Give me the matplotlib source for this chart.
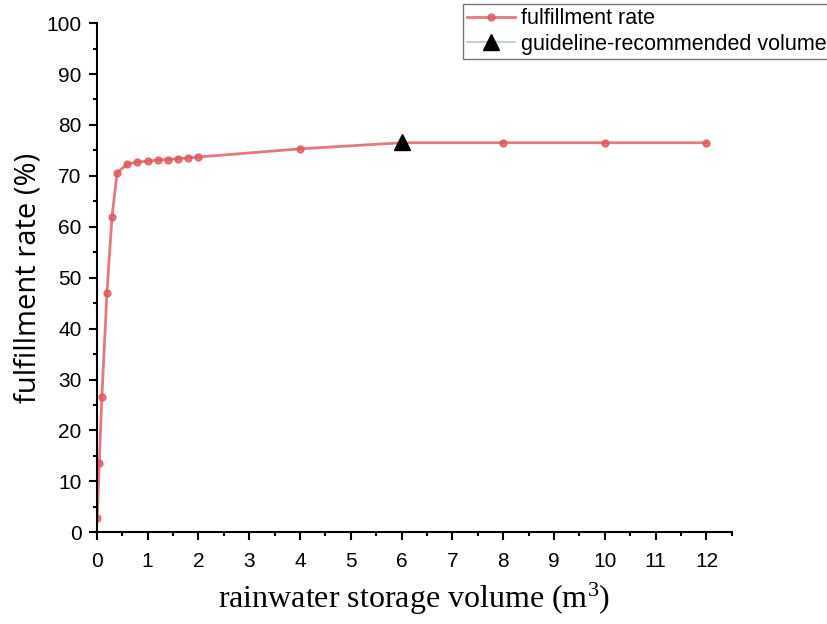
import matplotlib.pyplot as plt
from matplotlib.ticker import MultipleLocator

volume = [0.01, 0.05, 0.1, 0.2, 0.3, 0.4, 0.6, 0.8, 1.0, 1.2, 1.4, 1.6, 1.8, 2.0, 4, 6, 8, 10, 12]
rate = [2.8, 13.7, 26.5, 46.9, 62.0, 70.6, 72.3, 72.7, 72.9, 73.1, 73.2, 73.4, 73.5, 73.7, 75.3, 76.5, 76.5, 76.5, 76.5]
guide_x = [6]
guide_y = [76.6]

plt.rcParams['font.family'] = ['Liberation Sans', 'DejaVu Sans']
plt.rcParams['mathtext.fontset'] = 'custom'
plt.rcParams['mathtext.rm'] = 'Liberation Serif'
plt.rcParams['mathtext.it'] = 'Liberation Serif:italic'

fig = plt.figure(figsize=(8.27, 6.24), dpi=100)
ax = fig.add_axes([0.117, 0.147, 0.768, 0.816])

ax.plot(volume, rate, '-o', color='#e0575c', alpha=0.8, lw=2, ms=5, label='fulfillment rate')
ax.plot(guide_x, guide_y, '^', color='black', ms=12, ls='-', lw=1.2,
        label='guideline-recommended volume')
# legend line for the triangle entry is a pale line
h, l = ax.get_legend_handles_labels()
h[1].set_color('#b8c8d0')
h[1].set_markerfacecolor('black')
h[1].set_markeredgecolor('black')

ax.set_xlim(0, 12.5)
ax.set_ylim(0, 100)
ax.xaxis.set_major_locator(MultipleLocator(1))
ax.xaxis.set_minor_locator(MultipleLocator(0.5))
ax.yaxis.set_major_locator(MultipleLocator(10))
ax.yaxis.set_minor_locator(MultipleLocator(5))
ax.tick_params(which='major', length=6, width=1.5, labelsize=15)
ax.tick_params(axis='x', which='major', pad=8)
ax.tick_params(axis='y', which='major', pad=5)
ax.tick_params(which='minor', length=3, width=1.5)
for s in ['top', 'right']:
    ax.spines[s].set_visible(False)
for s in ['left', 'bottom']:
    ax.spines[s].set_linewidth(1.5)

ax.set_ylabel('fulfillment rate (%)', fontsize=21, family='Open Sans', labelpad=3)
ax.set_xlabel('rainwater storage volume (m$^3$)', fontsize=23, family='Liberation Serif', labelpad=7)

leg = fig.legend(h, l, loc='upper left', bbox_to_anchor=(463/827, 1-4/624), fontsize=15.5,
                 frameon=True, fancybox=False, borderpad=0.2, handlelength=2.2,
                 handletextpad=0.3, labelspacing=0.2, borderaxespad=0)
leg.get_frame().set_edgecolor('#555555')
leg.get_frame().set_linewidth(1)

fig.savefig('out.png')
